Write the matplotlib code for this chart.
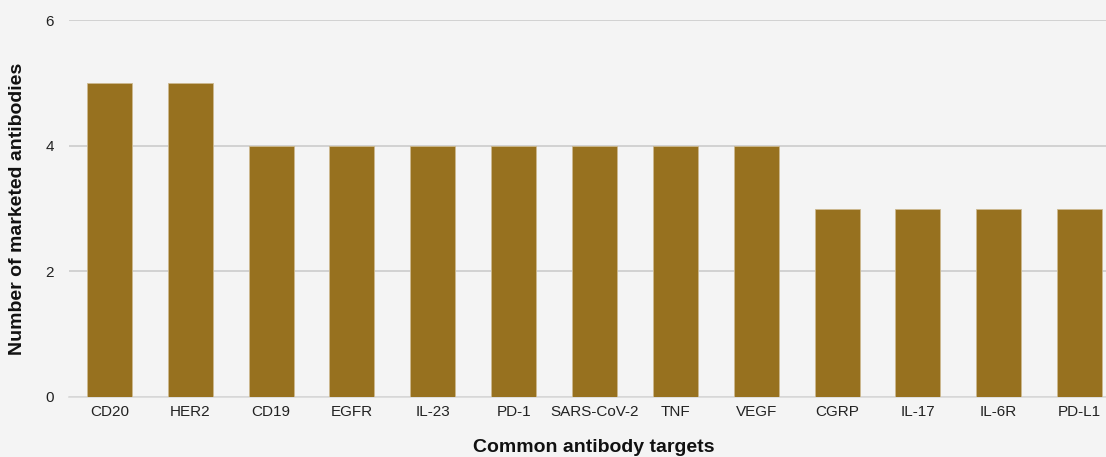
import matplotlib
matplotlib.use("Agg")
import matplotlib.pyplot as plt

categories = ["CD20", "HER2", "CD19", "EGFR", "IL-23", "PD-1", "SARS-CoV-2",
              "TNF", "VEGF", "CGRP", "IL-17", "IL-6R", "PD-L1"]
counts = [5, 5, 4, 4, 4, 4, 4, 4, 4, 3, 3, 3, 3]
yticks = [0, 2, 4, 6]

plt.rcParams['font.family'] = ['Liberation Sans', 'DejaVu Sans']

W, H = 1106, 457
fig = plt.figure(figsize=(W / 100, H / 100), dpi=100)
bg = "#f4f4f4"
fig.patch.set_facecolor(bg)

left, right, top, bottom = 69, 1120, 20, 397
ax = fig.add_axes([left / W, 1 - bottom / H, (right - left) / W, (bottom - top) / H])
ax.set_facecolor(bg)

x = range(len(categories))
ax.bar(x, counts, width=0.557, color="#97711f", edgecolor="#cdb98f", linewidth=0.6, zorder=3)

ax.set_xlim(-0.5, len(categories) - 0.5)
ax.set_ylim(0, 6)
ax.set_yticks(yticks)
ax.set_xticks(list(x))
ax.set_xticklabels(categories)
ax.yaxis.grid(True, color="#cccccc", linewidth=1.2, zorder=0)
ax.set_axisbelow(True)
for s in ["top", "right", "left"]:
    ax.spines[s].set_visible(False)
ax.spines["bottom"].set_color("#d9d9d9")
ax.spines["bottom"].set_linewidth(1.2)
ax.tick_params(axis="both", length=0, labelsize=11, colors="#222222")
ax.tick_params(axis="x", pad=6)
ax.tick_params(axis="y", pad=11)

fig.text(594 / W, 1 - 448 / H, "Common antibody targets", ha="center", va="center",
         fontsize=14, fontweight="bold", color="#111111")
fig.text(18 / W, 1 - 209 / H, "Number of marketed antibodies", ha="center", va="center",
         rotation=90, fontsize=14, fontweight="bold", color="#111111")

fig.savefig("out.png", dpi=100, facecolor=bg)
